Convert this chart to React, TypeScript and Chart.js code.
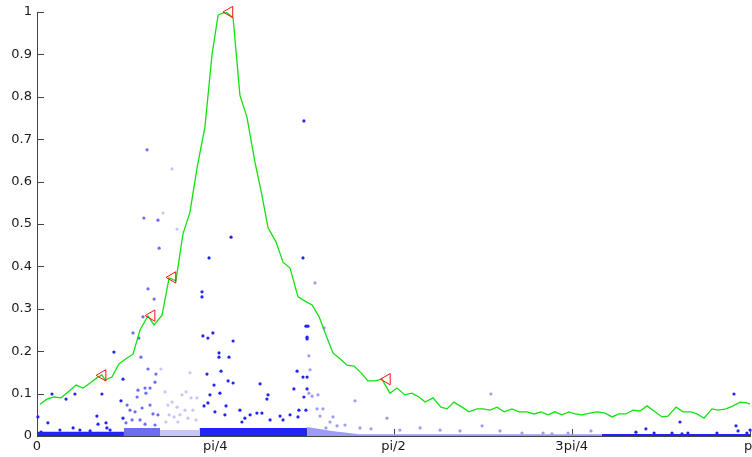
import React, { useEffect, useRef } from "react";
import { Chart, registerables } from "chart.js";

Chart.register(...registerables);

const PI = Math.PI;

// Axis ticks
const xTickValues = [0, PI / 4, PI / 2, (3 * PI) / 4, PI];
const xTickLabels = ["0", "pi/4", "pi/2", "3pi/4", "pi"];
const yTickValues = [0, 0.1, 0.2, 0.3, 0.4, 0.5, 0.6, 0.7, 0.8, 0.9, 1];
const yTickLabels = ["0", "0.1", "0.2", "0.3", "0.4", "0.5", "0.6", "0.7", "0.8", "0.9", "1"];

// Green envelope curve
const curveX = [0.013,0.044,0.075,0.106,0.137,0.172,0.203,0.234,0.264,0.286,0.300,0.330,0.361,0.392,0.423,0.454,0.489,0.516,0.551,0.582,0.612,0.643,0.674,0.705,0.740,0.771,0.798,0.833,0.864,0.894,0.925,0.961,0.991,1.018,1.053,1.084,1.115,1.150,1.181,1.212,1.243,1.273,1.304,1.335,1.366,1.397,1.428,1.458,1.489,1.520,1.555,1.586,1.621,1.652,1.683,1.710,1.745,1.780,1.807,1.837,1.873,1.903,1.939,1.965,1.996,2.027,2.058,2.093,2.124,2.159,2.190,2.221,2.252,2.282,2.313,2.344,2.371,2.401,2.437,2.467,2.503,2.534,2.564,2.595,2.626,2.657,2.688,2.723,2.754,2.780,2.816,2.846,2.882,2.908,2.939,2.974,3.001,3.036,3.067,3.098,3.128,3.142];
const curveY = [0.075,0.087,0.092,0.090,0.104,0.120,0.113,0.125,0.137,0.144,0.132,0.139,0.170,0.182,0.193,0.250,0.283,0.262,0.285,0.373,0.366,0.476,0.528,0.632,0.729,0.899,0.993,1.000,0.986,0.804,0.752,0.644,0.568,0.491,0.458,0.410,0.396,0.328,0.318,0.309,0.281,0.238,0.196,0.182,0.167,0.165,0.149,0.130,0.130,0.134,0.101,0.113,0.097,0.101,0.092,0.080,0.090,0.068,0.064,0.080,0.068,0.057,0.064,0.064,0.061,0.068,0.057,0.064,0.057,0.057,0.052,0.057,0.050,0.057,0.050,0.057,0.052,0.050,0.054,0.057,0.054,0.045,0.052,0.052,0.061,0.059,0.071,0.057,0.045,0.047,0.068,0.057,0.057,0.052,0.042,0.064,0.061,0.064,0.071,0.080,0.078,0.075];

// Red triangle markers (peaks)
const peakX = [0.289, 0.505, 0.597, 0.848, 1.542];
const peakY = [0.143, 0.284, 0.374, 1.0, 0.134];

// Scatter dots by colour group
const darkX = [0.004,0.066,0.048,0.018,0.128,0.167,0.159,0.189,0.264,0.269,0.286,0.304,0.308,0.339,0.370,0.379,0.379,0.101,0.234,0.322,
  1.176,0.855,0.758,1.172,0.727,0.727,0.731,0.753,0.775,0.864,0.802,0.802,0.846,0.811,0.842,0.864,0.749,0.762,0.806,0.736,0.983,1.018,1.013,1.132,1.146,1.172,1.190,1.190,1.185,1.194,1.190,1.190,1.176,1.185,1.154,0.991,0.969,1.071,1.084,0.753,0.833,0.780,0.916,0.939,1.027,1.115,0.894,0.828,0.784,0.903,1.150,
  3.071,2.833,3.080,3.089,2.683,2.639,2.719,2.798,2.842,2.868,2.996,3.128,3.142];
const darkY = [0.045,0.099,0.031,0.009,0.087,0.099,0.019,0.014,0.047,0.028,0.099,0.031,0.019,0.198,0.083,0.134,0.042,0.014,0.012,0.014,
  0.743,0.469,0.420,0.420,0.340,0.328,0.236,0.231,0.243,0.224,0.196,0.186,0.186,0.153,0.130,0.125,0.146,0.097,0.101,0.071,0.123,0.097,0.087,0.111,0.153,0.139,0.139,0.111,0.259,0.259,0.233,0.229,0.092,0.061,0.061,0.054,0.054,0.047,0.038,0.078,0.071,0.120,0.042,0.050,0.038,0.050,0.061,0.050,0.057,0.033,0.045,
  0.099,0.033,0.024,0.012,0.017,0.009,0.007,0.007,0.005,0.007,0.007,0.007,0.014];

const mediumX = [0.485,0.471,0.533,0.538,0.489,0.516,0.467,0.423,0.449,0.458,0.489,0.524,0.520,0.476,0.445,0.441,0.480,0.498,0.410,0.397,0.432,0.463,0.498,0.511,0.454,0.419,0.533,0.392,0.476,0.520];
const mediumY = [0.675,0.514,0.509,0.443,0.347,0.323,0.281,0.243,0.231,0.186,0.158,0.146,0.127,0.113,0.108,0.092,0.101,0.113,0.061,0.073,0.057,0.066,0.073,0.052,0.038,0.038,0.050,0.031,0.028,0.026];

const lightX = [0.595,0.555,0.617,0.546,0.564,0.639,0.657,0.674,0.595,0.617,0.679,0.705,0.582,0.604,0.630,0.652,0.577,0.687,0.665,0.621,0.701,0.568];
const lightY = [0.630,0.526,0.488,0.158,0.104,0.097,0.104,0.149,0.080,0.068,0.090,0.090,0.050,0.045,0.050,0.061,0.073,0.061,0.042,0.033,0.038,0.033];

const paleX = [1.225,1.265,1.198,1.203,1.198,1.212,1.238,1.260,1.234,1.304,1.401,1.542,2.000,1.961,1.322,2.137,2.230,2.269,2.340,2.441,1.247,1.291,1.357,1.423,1.599,1.688,1.776,1.864,2.040,1.273,1.472];
const paleY = [0.361,0.255,0.189,0.156,0.101,0.094,0.097,0.064,0.064,0.045,0.083,0.042,0.099,0.024,0.024,0.007,0.007,0.005,0.007,0.012,0.047,0.033,0.026,0.019,0.014,0.019,0.014,0.012,0.012,0.019,0.017];

// Dense near-zero bands of dots (x span and top)
const bandDarkAX = [0, 0.383];
const bandDarkATop = [0.010, 0.010];
const bandMediumX = [0.383, 0.542];
const bandMediumTop = [0.019, 0.019];
const bandLightX = [0.542, 0.716];
const bandLightTop = [0.014, 0.014];
const bandDarkBX = [0.716, 1.190];
const bandDarkBTop = [0.019, 0.019];
const bandPaleX = [1.190, 1.300, 1.420, 2.489];
const bandPaleTop = [0.021, 0.012, 0.004, 0.004];
const bandDarkCX = [2.489, 3.142];
const bandDarkCTop = [0.005, 0.005];

const DARK = "#2323f3";
const MEDIUM = "#6d6df0";
const LIGHT = "#c6c6f7";
const PALE = "#9c9cf5";

const pts = (xs: number[], ys: number[]) => xs.map((x, i) => ({ x, y: ys[i] }));

const inwardTicks = {
  id: "inwardTicks",
  beforeDatasetsDraw(chart: any) {
    const { ctx, chartArea, scales } = chart;
    ctx.save();
    ctx.strokeStyle = "#444";
    ctx.lineWidth = 1;
    ctx.beginPath();
    for (const v of xTickValues) {
      const px = Math.round(scales.x.getPixelForValue(v)) + 0.5;
      ctx.moveTo(px, chartArea.bottom);
      ctx.lineTo(px, chartArea.bottom - 7);
    }
    for (const v of yTickValues) {
      const py = Math.round(scales.y.getPixelForValue(v)) + 0.5;
      ctx.moveTo(chartArea.left, py);
      ctx.lineTo(chartArea.left + 7, py);
    }
    ctx.stroke();
    ctx.restore();
  },
};

const band = (xs: number[], tops: number[], color: string, order: number) => ({
  type: "scatter" as const,
  data: pts(xs, tops),
  showLine: true,
  fill: "origin",
  backgroundColor: color,
  borderColor: color,
  borderWidth: 0,
  pointRadius: 0,
  order,
});

const dots = (xs: number[], ys: number[], color: string, order: number) => ({
  type: "scatter" as const,
  data: pts(xs, ys),
  backgroundColor: color,
  borderWidth: 0,
  pointRadius: 1.6,
  pointStyle: "circle",
  clip: false,
  order,
});

export default function App() {
  const ref = useRef<HTMLCanvasElement | null>(null);

  useEffect(() => {
    if (!ref.current) return;
    Chart.defaults.font.family = "'DejaVu Sans', sans-serif";
    Chart.defaults.font.size = 13;
    const chart = new Chart(ref.current, {
      type: "scatter",
      data: {
        datasets: [
          {
            type: "scatter",
            data: pts(peakX, peakY),
            pointStyle: "triangle",
            rotation: -90,
            pointRadius: 6.5,
            borderColor: "#ff1010",
            backgroundColor: "rgba(0,0,0,0)",
            borderWidth: 1,
            clip: false,
            order: 0,
          },
          {
            type: "scatter",
            data: pts(curveX, curveY),
            showLine: true,
            borderColor: "#12e012",
            borderWidth: 1.3,
            pointRadius: 0,
            fill: false,
            order: 1,
          },
          dots(darkX, darkY, DARK, 2),
          dots(mediumX, mediumY, MEDIUM, 3),
          dots(lightX, lightY, LIGHT, 4),
          dots(paleX, paleY, PALE, 5),
          band(bandDarkAX, bandDarkATop, DARK, 6),
          band(bandMediumX, bandMediumTop, MEDIUM, 7),
          band(bandLightX, bandLightTop, LIGHT, 8),
          band(bandDarkBX, bandDarkBTop, DARK, 9),
          band(bandPaleX, bandPaleTop, PALE, 10),
          band(bandDarkCX, bandDarkCTop, DARK, 11),
        ] as any,
      },
      options: {
        responsive: false,
        animation: false,
        devicePixelRatio: 1,
        events: [],
        layout: { autoPadding: false, padding: { top: 12, right: 2, bottom: 0, left: 0 } },
        plugins: {
          legend: { display: false },
          tooltip: { enabled: false },
        },
        scales: {
          x: {
            type: "linear",
            min: 0,
            max: PI,
            afterBuildTicks: (s: any) => {
              s.ticks = xTickValues.map((v) => ({ value: v }));
            },
            afterFit: (s: any) => {
              s.height = 21;
              s.paddingLeft = 0;
              s.paddingRight = 0;
            },
            ticks: {
              callback: (_v: any, i: number) => xTickLabels[i],
              padding: 3,
              color: "#1a1a1a",
              autoSkip: false,
              maxRotation: 0,
              minRotation: 0,
            },
            grid: { display: false, drawTicks: false },
            border: { display: true, color: "#444", width: 1 },
          },
          y: {
            type: "linear",
            min: 0,
            max: 1,
            afterBuildTicks: (s: any) => {
              s.ticks = yTickValues.map((v) => ({ value: v }));
            },
            afterFit: (s: any) => {
              s.width = 37;
              s.paddingTop = 0;
              s.paddingBottom = 0;
            },
            ticks: {
              callback: (_v: any, i: number) => yTickLabels[i],
              padding: 5,
              color: "#1a1a1a",
              autoSkip: false,
            },
            grid: { display: false, drawTicks: false },
            border: { display: true, color: "#444", width: 1 },
          },
        },
      } as any,
      plugins: [inwardTicks],
    });
    return () => chart.destroy();
  }, []);

  return (
    <div style={{ position: "fixed", left: 0, top: 0, width: 752, height: 457, background: "#fff" }}>
      <canvas ref={ref} width={752} height={457} style={{ display: "block", width: 752, height: 457 }} />
    </div>
  );
}
